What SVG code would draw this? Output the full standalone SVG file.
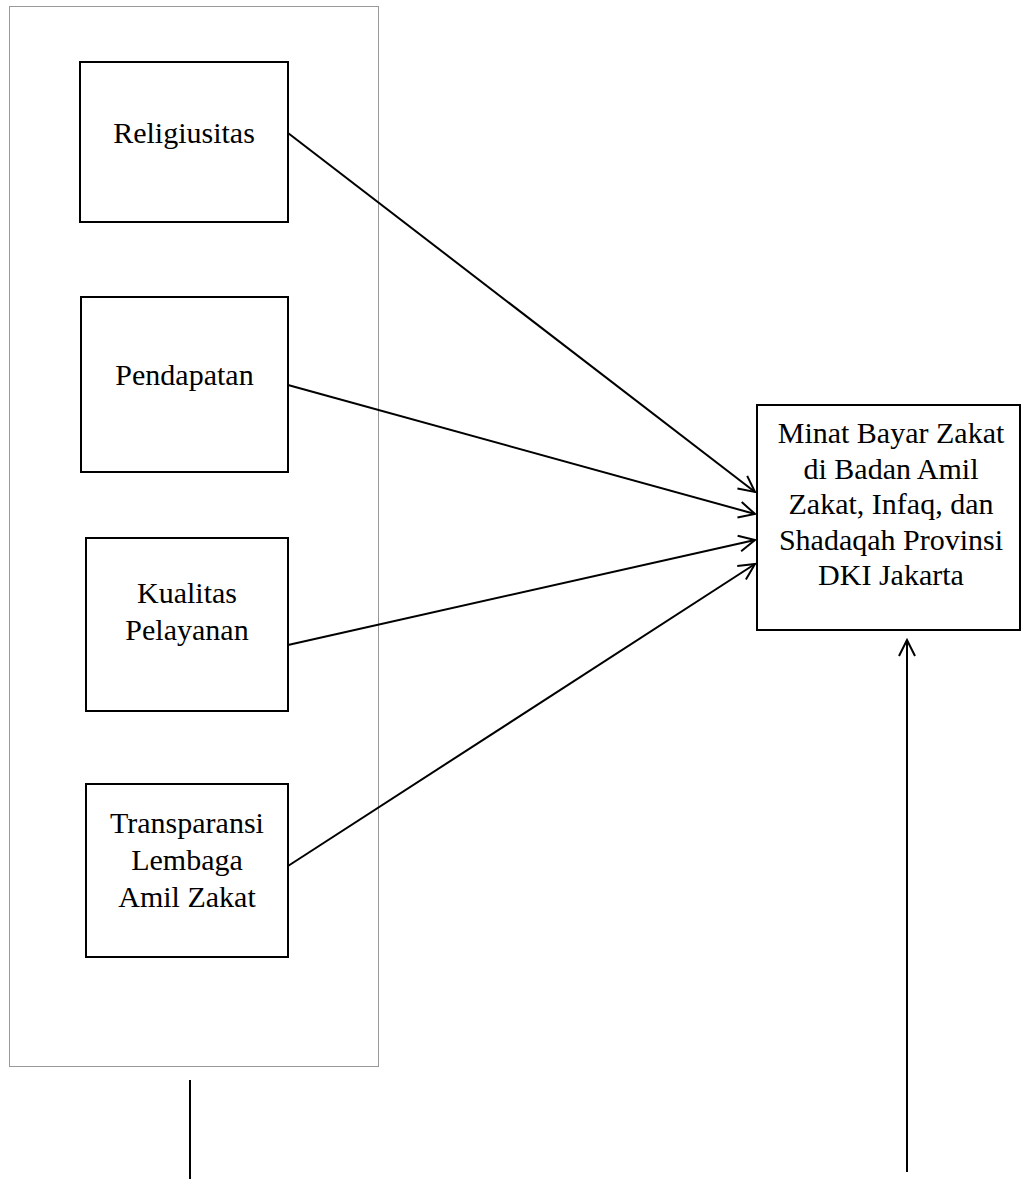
<svg xmlns="http://www.w3.org/2000/svg" width="1021" height="1179" viewBox="0 0 1021 1179">
<defs>
<style>
.box{fill:#fff;stroke:#000;stroke-width:2}
.t{font-family:"Liberation Serif","Times New Roman",serif;font-size:30px;fill:#000;text-anchor:middle}
.c{stroke:#000;stroke-width:2;fill:none}
</style>
<marker id="ah" viewBox="0 0 20 20" refX="18" refY="10" markerWidth="20" markerHeight="20" markerUnits="userSpaceOnUse" orient="auto">
<path d="M2,2 L18,10 L2,18" fill="none" stroke="#000" stroke-width="2"/>
</marker>
</defs>
<rect width="1021" height="1179" fill="#fff"/>
<g id="container">
<rect x="9.5" y="6.5" width="369" height="1060" fill="none" stroke="#999" stroke-width="1"/>
</g>
<g id="religiusitas">
<rect class="box" x="80" y="62" width="208" height="160"/>
<text class="t" x="184" y="143">Religiusitas</text>
</g>
<g id="pendapatan">
<rect class="box" x="81" y="297" width="207" height="175"/>
<text class="t" x="184.5" y="385">Pendapatan</text>
</g>
<g id="kualitas">
<rect class="box" x="86" y="538" width="202" height="173"/>
<text class="t" x="187" y="603">Kualitas</text>
<text class="t" x="187" y="640">Pelayanan</text>
</g>
<g id="transparansi">
<rect class="box" x="86" y="784" width="202" height="173"/>
<text class="t" x="187" y="833">Transparansi</text>
<text class="t" x="187" y="870">Lembaga</text>
<text class="t" x="187" y="907">Amil Zakat</text>
</g>
<g id="minat">
<rect class="box" x="757" y="405" width="263" height="225"/>
<text class="t" x="891" y="443">Minat Bayar Zakat</text>
<text class="t" x="891" y="478.5">di Badan Amil</text>
<text class="t" x="891" y="514">Zakat, Infaq, dan</text>
<text class="t" x="891" y="549.5">Shadaqah Provinsi</text>
<text class="t" x="891" y="585">DKI Jakarta</text>
</g>
<g id="connectors">
<line class="c" x1="288" y1="133" x2="755" y2="492" marker-end="url(#ah)"/>
<line class="c" x1="288" y1="385" x2="755" y2="514" marker-end="url(#ah)"/>
<line class="c" x1="288" y1="645" x2="755" y2="540" marker-end="url(#ah)"/>
<line class="c" x1="288" y1="866" x2="755" y2="564" marker-end="url(#ah)"/>
<line class="c" x1="907" y1="1172" x2="907" y2="640" marker-end="url(#ah)"/>
<line class="c" x1="190" y1="1080" x2="190" y2="1179"/>
</g>
</svg>
